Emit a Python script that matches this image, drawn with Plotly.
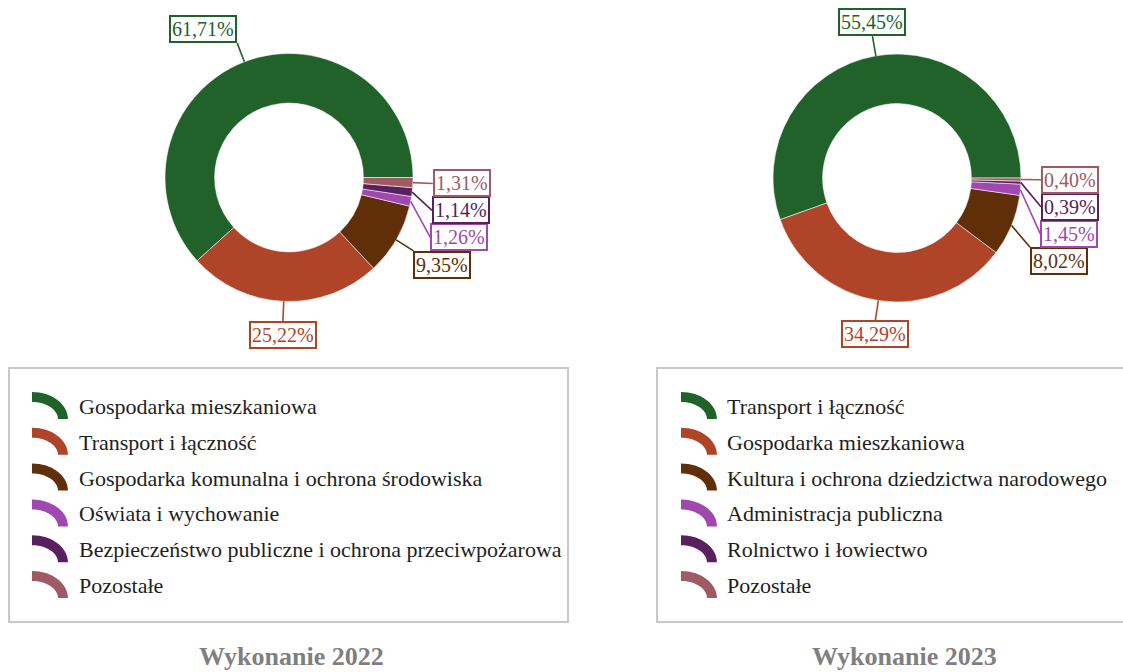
import math
import plotly.graph_objects as go

# ---- data -------------------------------------------------------------
cats_2022 = [
    "Gospodarka mieszkaniowa",
    "Transport i łączność",
    "Gospodarka komunalna i ochrona środowiska",
    "Oświata i wychowanie",
    "Bezpieczeństwo publiczne i ochrona przeciwpożarowa",
    "Pozostałe",
]
shares_2022 = [61.71, 25.22, 9.35, 1.26, 1.14, 1.31]

cats_2023 = [
    "Transport i łączność",
    "Gospodarka mieszkaniowa",
    "Kultura i ochrona dziedzictwa narodowego",
    "Administracja publiczna",
    "Rolnictwo i łowiectwo",
    "Pozostałe",
]
shares_2023 = [55.45, 34.29, 8.02, 1.45, 0.39, 0.40]

titles = ["Wykonanie 2022", "Wykonanie 2023"]

slice_colors = ["#20622a", "#b04428", "#602e08", "#a048b0", "#58205f", "#a05a64"]

# ---- page geometry (pixels) --------------------------------------------
W, H = 1123, 672
FONT = "Liberation Serif, Times New Roman, serif"
R = 124          # outer radius of a donut
HOLE = 0.6
panels = [
    dict(cx=289, cy=177.5, box=(9, 368, 568, 622), icon_x=32, text_x=77, title_x=291,
         cats=cats_2022, vals=shares_2022, title=titles[0]),
    dict(cx=897, cy=178, box=(657, 368, 1140, 622), icon_x=681, text_x=725, title_x=904,
         cats=cats_2023, vals=shares_2023, title=titles[1]),
]
ROW0, ROW_STEP = 405.5, 35.8


def px(x):
    return x / W


def py(y):
    return 1 - y / H


def fmt(v):
    return f"{v:.2f}".replace(".", ",") + "%"


def label_positions(vals, cx, cy, r, ext=20, box_h=27):
    """Leader-line tip/tail for each slice (counterclockwise from 3 o'clock)."""
    total = sum(vals)
    cum = 0.0
    items = []
    for v in vals:
        mid = math.radians((cum + v / 2) / total * 360)
        cum += v
        c, s = math.cos(mid), math.sin(mid)
        tip = (cx + r * c, cy - r * s)
        tail = [cx + (r + ext) * c, cy - (r + ext) * s]
        xa = "left" if c > 0.25 else ("right" if c < -0.25 else "center")
        ya = "bottom" if s > 0.3 else ("top" if s < -0.3 else "middle")
        shift = {"top": box_h / 2, "bottom": -box_h / 2, "middle": 0}[ya]
        items.append(dict(tip=tip, tail=tail, xa=xa, ya=ya, shift=shift, right=c > 0.25))
    # keep boxes on the right side from overlapping: push them downwards
    right = sorted([it for it in items if it["right"]], key=lambda it: it["tail"][1] + it["shift"])
    prev = None
    for it in right:
        centre = it["tail"][1] + it["shift"]
        if prev is not None and centre < prev + box_h:
            centre = prev + box_h
        it["tail"][1] = centre - it["shift"]
        prev = centre
    return items


fig = go.Figure()
annotations = []
shapes = []

for p in panels:
    cx, cy = p["cx"], p["cy"]
    vals = p["vals"]
    # counterclockwise pies in plotly place the first slice clockwise of `rotation`;
    # shift it so the first slice begins at 3 o'clock and grows upwards
    first_span = 360 * vals[0] / sum(vals)
    fig.add_trace(go.Pie(
        values=vals,
        labels=p["cats"],
        hole=HOLE,
        sort=False,
        direction="counterclockwise",
        rotation=90 - first_span,
        textinfo="none",
        marker=dict(colors=slice_colors, line=dict(color="rgba(255,255,255,0.55)", width=1)),
        domain=dict(x=[px(cx - R), px(cx + R)], y=[py(cy + R), py(cy - R)]),
        showlegend=False,
        hovertemplate="%{label}: %{value:.2f}%<extra></extra>",
    ))

    # value boxes with leader lines
    for v, col, it in zip(vals, slice_colors, label_positions(vals, cx, cy, R)):
        tx, ty = it["tip"]
        annotations.append(dict(
            x=px(tx), y=py(ty), xref="paper", yref="paper",
            ax=it["tail"][0] - tx, ay=it["tail"][1] - ty, axref="pixel", ayref="pixel",
            text=fmt(v), showarrow=True, arrowhead=0, arrowwidth=1.6, arrowcolor=col,
            standoff=0, startstandoff=0,
            xanchor=it["xa"], yanchor=it["ya"],
            font=dict(family=FONT, size=20, color=col),
            bgcolor="white", bordercolor=col, borderwidth=2, borderpad=1,
        ))

    # legend frame
    x0, y0, x1, y1 = p["box"]
    shapes.append(dict(type="rect", xref="paper", yref="paper",
                       x0=px(x0), x1=px(x1), y0=py(y0), y1=py(y1),
                       line=dict(color="#c8c8c8", width=2), fillcolor="rgba(0,0,0,0)"))

    # legend rows: quarter-ring icon + category name
    k = 0.5523
    for i, (cat, col) in enumerate(zip(p["cats"], slice_colors)):
        yc = ROW0 + i * ROW_STEP
        ox, oy = p["icon_x"], yc + 13.5          # ring centre (bottom-left)
        rx1, ry1, rx2, ry2 = 36, 27, 26, 17
        pts = [
            ("M", [(ox, oy - ry1)]),
            ("C", [(ox + k * rx1, oy - ry1), (ox + rx1, oy - k * ry1), (ox + rx1, oy)]),
            ("L", [(ox + rx2, oy)]),
            ("C", [(ox + rx2, oy - k * ry2), (ox + k * rx2, oy - ry2), (ox, oy - ry2)]),
        ]
        path = " ".join(cmd + " " + " ".join(f"{px(a):.5f},{py(b):.5f}" for a, b in seg) for cmd, seg in pts) + " Z"
        shapes.append(dict(type="path", xref="paper", yref="paper", path=path,
                           fillcolor=col, line=dict(width=0)))
        annotations.append(dict(
            x=px(p["text_x"]), y=py(yc + 1), xref="paper", yref="paper",
            text=cat, showarrow=False, xanchor="left", yanchor="middle",
            font=dict(family=FONT, size=22, color="#1e1e1e"),
        ))

    # panel title, sitting on the bottom edge of the page
    annotations.append(dict(
        x=px(p["title_x"]), y=0, xref="paper", yref="paper",
        text=f"<b>{p['title']}</b>", showarrow=False, xanchor="center", yanchor="bottom",
        font=dict(family=FONT, size=26, color="#7f7f7f"), borderpad=0,
    ))

fig.update_layout(
    width=W, height=H,
    margin=dict(l=0, r=0, t=0, b=0),
    paper_bgcolor="white", plot_bgcolor="white",
    annotations=annotations, shapes=shapes,
    showlegend=False,
)

fig.write_html("out.html")
